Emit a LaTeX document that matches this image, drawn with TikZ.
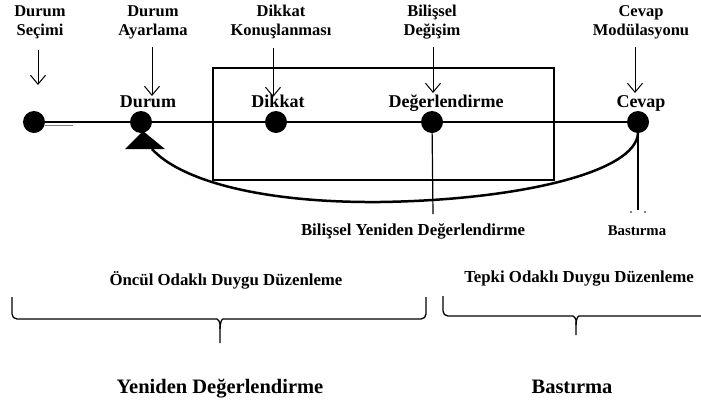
\documentclass[tikz,border=0pt]{standalone}
\usepackage{fontspec}
\setmainfont{Liberation Serif}
\usetikzlibrary{arrows.meta}

\begin{document}
\begin{tikzpicture}[x=1pt,y=-1pt,font=\bfseries,
    dot/.style={circle,fill,minimum size=22pt,inner sep=0pt},
    toplabel/.style={align=center,inner sep=0pt,font=\bfseries\fontsize{16.5}{19}\selectfont},
    steplabel/.style={anchor=base,inner sep=0pt,font=\bfseries\fontsize{18}{20}\selectfont},
    midlabel/.style={anchor=base,inner sep=0pt,font=\bfseries\fontsize{16.8}{18}\selectfont},
    biglabel/.style={anchor=base,inner sep=0pt,font=\bfseries\fontsize{20.5}{22}\selectfont},
    arr/.style={line width=1pt,-{Straight Barb[length=9pt,width=15pt]}},
    brace/.style={line width=1.3pt,rounded corners=5pt}]
  \useasboundingbox (0,0) rectangle (701,405);

  % top labels
  \node[toplabel] (ls) at (40,22) {Durum\\Seçimi};
  \node[toplabel] (la) at (153,22) {Durum\\Ayarlama};
  \node[toplabel] (lk) at (281,22) {Dikkat\\Konuşlanması};
  \node[toplabel] (lb) at (432,22) {Bilişsel\\Değişim};
  \node[toplabel] (lc) at (641,22) {Cevap\\Modülasyonu};

  % steps
  \node[dot] (d0) at (34,122) {};
  \node[dot] (d1) at (141,122) {};
  \node[dot] (d2) at (276,122) {};
  \node[dot] (d3) at (432,122) {};
  \node[dot] (d4) at (638,122) {};
  \node[steplabel] (n1) at (148,107) {Durum};
  \node[steplabel] (n2) at (278,107) {Dikkat};
  \node[steplabel] (n3) at (446,107) {Değerlendirme};
  \node[steplabel] (n4) at (641,107) {Cevap};

  \draw[line width=1.2pt] (d0) -- (d4);
  \coordinate (g0) at (45,125);
  \coordinate (g1) at (73,125);
  \draw[gray,line width=1pt] (g0) -- (g1);
  \draw[line width=2.5pt] (213,68) rectangle (554,180);

  % arrows
  \coordinate (a0) at (38,50);  \coordinate (b0) at (38,85);
  \coordinate (a1) at (152,47); \coordinate (b1) at (152,96);
  \coordinate (a2) at (273,48); \coordinate (b2) at (273,97);
  \coordinate (a3) at (433,47); \coordinate (b3) at (433,93);
  \coordinate (a4) at (635,47); \coordinate (b4) at (635,93);
  \draw[arr] (a0) -- (b0);
  \draw[arr] (a1) -- (b1);
  \draw[arr] (a2) -- (b2);
  \draw[arr] (a3) -- (b3);
  \draw[arr] (a4) -- (b4);

  % down lines
  \coordinate (e3) at (433,214);
  \coordinate (e4) at (638,210);
  \draw[line width=1.2pt] (d3) -- (e3);
  \draw[line width=1.2pt] (d4) -- (e4);
  \fill (631,212) circle (0.9pt) (645,212) circle (0.9pt);

  % feedback
  \coordinate (t0) at (143,131);
  \coordinate (t1) at (152,149);
  \fill (t0) -- ++(-18,18) -- ++(40,0) -- cycle;
  \draw[line width=2.5pt] (d4.south) .. controls (636,172) and (520,200) .. (380,202)
    .. controls (260,203) and (180,180) .. (t1);

  \node[midlabel] (r1) at (413,235) {Bilişsel Yeniden Değerlendirme};
  \node[anchor=base,inner sep=0pt,font=\bfseries\fontsize{14.8}{16}\selectfont] (r2) at (637,235) {Bastırma};

  \node[midlabel] (o1) at (226,285) {Öncül Odaklı Duygu Düzenleme};
  \node[midlabel] (o2) at (579,282) {Tepki Odaklı Duygu Düzenleme};

  % braces
  \draw[brace] (12,297) -- (12,319) -- (212,319)
    .. controls (218,319) and (220,322) .. (220,329) -- (220,343);
  \draw[brace] (426,297) -- (426,319) -- (228,319)
    .. controls (222,319) and (220,322) .. (220,329);
  \draw[brace] (443,296) -- (443,316) -- (568,316)
    .. controls (574,316) and (576,319) .. (576,325) -- (576,335);
  \draw[brace] (701,316) -- (584,316)
    .. controls (578,316) and (576,319) .. (576,325);

  \node[biglabel] (y1) at (220,393) {Yeniden Değerlendirme};
  \node[biglabel] (y2) at (572,393) {Bastırma};
\end{tikzpicture}
\end{document}
